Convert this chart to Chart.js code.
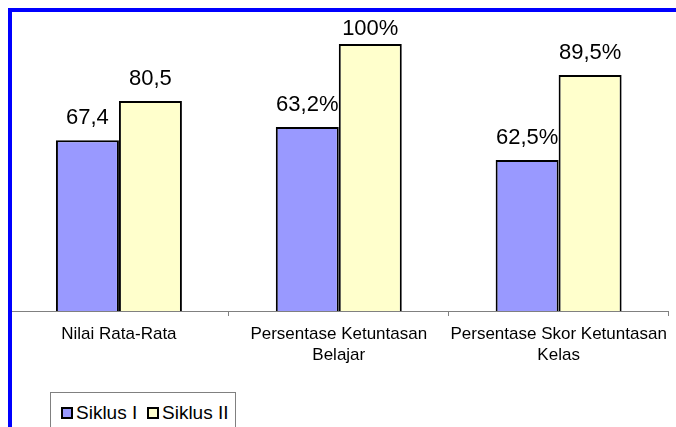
<!DOCTYPE html>
<html>
<head>
<meta charset="utf-8">
<script src="https://cdn.jsdelivr.net/npm/chart.js@4/dist/chart.umd.min.js"></script>
<style>
  html, body { margin: 0; padding: 0; background: #fff; overflow: hidden; }
  #wrap { position: relative; width: 676px; height: 427px; }
  #frame { position: absolute; left: 8px; top: 8px; width: 700px; height: 460px;
           border-left: 4px solid #0000ff; border-top: 4px solid #0000ff; pointer-events: none; }
  #legend { position: absolute; left: 50px; top: 392px; width: 184px; height: 50px;
            border: 1px solid #808080; background: #fff;
            font: 19px "Liberation Sans", Arial, sans-serif; color: #000; }
  #legend span.item { position: absolute; top: 9px; white-space: nowrap; }
  #legend span.box { display: inline-block; width: 8px; height: 8px; border: 2px solid #000;
                     margin-right: 3px; vertical-align: 0px; }
</style>
</head>
<body>
<div id="wrap">
  <canvas id="c" width="676" height="427"></canvas>
  <div id="frame"></div>
  <div id="legend"></div>
</div>
<script>
// categories and series
var categories = [
  'Nilai Rata-Rata',
  ['Persentase Ketuntasan', 'Belajar'],
  ['Persentase Skor Ketuntasan', 'Kelas']
];
var seriesNames = ['Siklus I', 'Siklus II'];
// bar heights as drawn in the picture (the 100% bar = 100)
var siklus1 = [64.0, 68.9, 56.6];
var siklus2 = [78.7, 100, 88.4];
// value labels printed above the bars
var siklus1Labels = ['67,4', '63,2%', '62,5%'];
var siklus2Labels = ['80,5', '100%', '89,5%'];
var colors = ['#9999ff', '#ffffcc'];

var valueLabels = {
  id: 'valueLabels',
  afterDatasetsDraw: function(chart) {
    var ctx = chart.ctx;
    ctx.save();
    ctx.font = '22px "Liberation Sans", Arial, sans-serif';
    ctx.fillStyle = '#000';
    ctx.textAlign = 'center';
    ctx.textBaseline = 'alphabetic';
    chart.data.datasets.forEach(function(ds, i) {
      chart.getDatasetMeta(i).data.forEach(function(bar, j) {
        var y = Math.max(bar.y - 16, 35);
        ctx.fillText(ds.valueLabels[j], bar.x, y);
      });
    });
    ctx.restore();
  }
};

var chart = new Chart(document.getElementById('c'), {
  type: 'bar',
  data: {
    labels: categories,
    datasets: [{
      label: seriesNames[0],
      data: siklus1,
      valueLabels: siklus1Labels,
      backgroundColor: colors[0],
      borderColor: '#000',
      borderWidth: 2,
      borderSkipped: 'bottom',
      categoryPercentage: 0.573,
      barPercentage: 1
    }, {
      label: seriesNames[1],
      data: siklus2,
      valueLabels: siklus2Labels,
      backgroundColor: colors[1],
      borderColor: '#000',
      borderWidth: 2,
      borderSkipped: 'bottom',
      categoryPercentage: 0.573,
      barPercentage: 1
    }]
  },
  options: {
    responsive: false,
    animation: false,
    layout: { padding: { left: 9, right: 7, top: 11, bottom: 0 } },
    plugins: {
      legend: { display: false },
      tooltip: { enabled: false }
    },
    scales: {
      y: { display: false, min: 0, max: 112.4 },
      x: {
        afterFit: function(scale) { scale.height = 116; },
        border: { display: true, color: '#808080', width: 1 },
        grid: { display: true, offset: true, drawOnChartArea: false, tickLength: 5, color: '#808080' },
        ticks: {
          color: '#000',
          padding: 8,
          maxRotation: 0,
          autoSkip: false,
          font: { family: '"Liberation Sans", Arial, sans-serif', size: 17, lineHeight: 1.24 }
        }
      }
    }
  },
  plugins: [valueLabels]
});

// legend box built from the datasets
var legend = document.getElementById('legend');
var lefts = [10, 96];
chart.data.datasets.forEach(function(ds, i) {
  var item = document.createElement('span');
  item.className = 'item';
  item.style.left = lefts[i] + 'px';
  item.innerHTML = '<span class="box" style="background:' + ds.backgroundColor + '"></span>' + ds.label;
  legend.appendChild(item);
});
</script>
</body>
</html>
